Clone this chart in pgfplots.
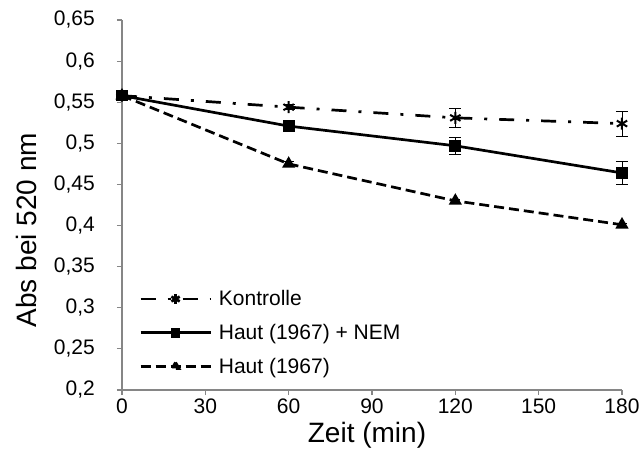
\documentclass[border=0pt]{standalone}
\usepackage{fontspec}
\setmainfont{Liberation Sans}
\usepackage{pgfplots}
\pgfplotsset{compat=1.18}
\definecolor{axisgray}{RGB}{134,134,134}
\pgfplotsset{
  longline/.style={
    legend image code/.code={
      \draw[mark repeat=2, mark phase=2, ##1, mark options={scale=0.8}] plot coordinates {(0pt,0pt) (35pt,0pt) (70pt,0pt)};
    }
  }
}
\begin{document}
\begin{tikzpicture}
\begin{axis}[
  name=main,
  scale only axis,
  width=500pt, height=370pt,
  xmin=0, xmax=180, ymin=0.2, ymax=0.65,
  xtick={0,30,60,90,120,150,180},
  ytick={0.2,0.25,0.3,0.35,0.4,0.45,0.5,0.55,0.6,0.65},
  axis lines*=left,
  axis line style={axisgray, line width=1.5pt, -},
  tick style={axisgray, line width=1.2pt},
  tick align=outside,
  major tick length=5pt,
  /pgf/number format/assume math mode=true,
  /pgf/number format/use comma,
  /pgf/number format/fixed,
  ticklabel style={font=\fontsize{21}{23}\selectfont, inner sep=0pt},
  xticklabel style={anchor=north, yshift=-4pt, text depth=0pt},
  yticklabel style={anchor=east, xshift=-22pt},
  xlabel={Zeit (min)}, ylabel={Abs bei 520 nm},
  label style={font=\fontsize{28}{30}\selectfont, inner sep=0pt},
  xlabel style={at={(rel axis cs:0.49,0)}, anchor=center, yshift=-45pt},
  ylabel style={at={(rel axis cs:0,0.432)}, anchor=center, yshift=96pt},
  clip=false,
  legend style={draw=none, fill=none, at={(rel axis cs:0,0)}, anchor=south west,
    xshift=14pt, yshift=11pt, column sep=5pt,
    font=\fontsize{21}{23}\selectfont, row sep=13pt},
  legend cell align=left,
  every axis plot/.append style={black, line width=2.7pt},
]
\addplot[longline, dash pattern=on 15pt off 12pt on 3pt off 12pt,
  mark=asterisk, mark size=6pt, mark options={solid, line width=2pt},
  error bars/.cd, y dir=both, y explicit,
  error bar style={line width=0.8pt, solid}, error mark options={rotate=90, mark size=6pt, line width=0.8pt}]
  coordinates {(0,0.558) +- (0,0.002) (60,0.544) +- (0,0.003) (120,0.531) +- (0,0.012) (180,0.524) +- (0,0.015)};
\addlegendentry{Kontrolle}
\addplot[longline, solid, mark=square*, mark size=4.5pt,
  error bars/.cd, y dir=both, y explicit,
  error bar style={line width=0.8pt, solid}, error mark options={rotate=90, mark size=6pt, line width=0.8pt}]
  coordinates {(0,0.558) +- (0,0.002) (60,0.521) +- (0,0.004) (120,0.497) +- (0,0.01) (180,0.464) +- (0,0.014)};
\addlegendentry{Haut (1967) + NEM}
\addplot[longline, dash pattern=on 10pt off 5pt, mark=triangle*, mark size=5pt, mark options={solid},
  error bars/.cd, y dir=both, y explicit,
  error bar style={line width=0.8pt, solid}, error mark options={rotate=90, mark size=5pt, line width=0.8pt}]
  coordinates {(0,0.558) +- (0,0.002) (60,0.475) +- (0,0.003) (120,0.430) +- (0,0.002) (180,0.401) +- (0,0.002)};
\addlegendentry{Haut (1967)}
\end{axis}
\pgfresetboundingbox
\path (main.south west) ++(-122pt,-69pt) rectangle ++(641pt,459pt);
\end{tikzpicture}
\end{document}
